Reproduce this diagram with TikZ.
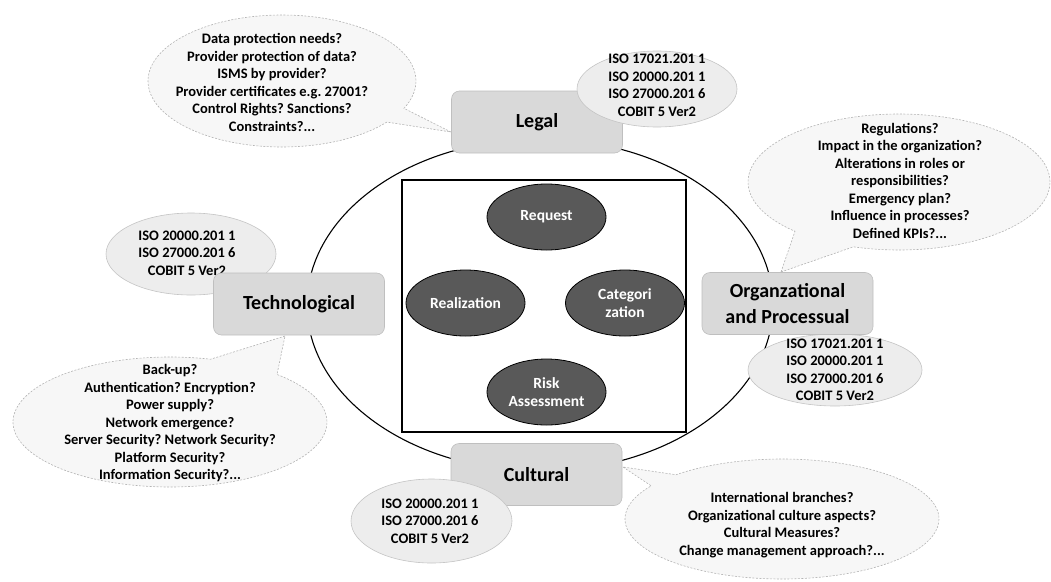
\documentclass[tikz,border=0pt]{standalone}
\usepackage{fontspec}
\setmainfont{Carlito}
\usetikzlibrary{shapes.geometric,shapes.callouts}
\frenchspacing

\definecolor{boxfill}{HTML}{D9D9D9}
\definecolor{boxline}{HTML}{BFBFBF}
\definecolor{isofill}{HTML}{EDEDED}
\definecolor{isoline}{HTML}{C4C4C4}
\definecolor{bubblefill}{HTML}{F7F7F7}
\definecolor{bubbleline}{HTML}{B4B4B4}
\definecolor{phasefill}{HTML}{595959}

\newcommand\smalltext{\fontsize{14.5}{17.5}\selectfont\bfseries}
\newcommand\boxtext{\fontsize{20}{26}\selectfont\bfseries}
\newcommand\phasetext{\fontsize{15.5}{18.5}\selectfont\bfseries}

\begin{document}
\begin{tikzpicture}[x=1pt,y=-1pt,
  bubble/.style={ellipse callout, draw=bubbleline, fill=bubblefill,
    dash pattern=on 2pt off 1.5pt, line width=0.6pt, inner sep=0pt, outer sep=0pt},
  bubbletext/.style={align=center, font=\smalltext, inner sep=0pt},
  isoshape/.style={ellipse, draw=isoline, fill=isofill, line width=0.6pt, inner sep=0pt},
  catbox/.style={rectangle, rounded corners=8pt, draw=boxline, fill=boxfill,
    line width=0.6pt, minimum width=171, minimum height=62, align=center,
    font=\boxtext, inner sep=0pt},
  phase/.style={ellipse, draw=black, fill=phasefill, line width=0.8pt,
    minimum width=119, minimum height=66, inner sep=0pt, text=white,
    align=center, font=\phasetext}]
\useasboundingbox (0,0) rectangle (1051,581);

% outer ring and the process frame
\node[ellipse, draw=black, line width=1.1pt, minimum width=466, minimum height=332, inner sep=0pt] (ring) at (540,305) {};
\node[rectangle, draw=black, fill=white, line width=1.1pt, minimum width=284, minimum height=252, inner sep=0pt] (frame) at (544,306) {};

% process phases
\node[phase] (request) at (546.5,217) {Request};
\node[phase] (realization) at (465.5,303) {Realization};
\node[phase] (categorization) at (625,303) {Categori\\zation};
\node[phase] (risk) at (546.5,392) {Risk\\Assessment};

% pointer tips of the question bubbles
\coordinate (legaltip) at (451,132);
\coordinate (orgtip) at (781,272);
\coordinate (techtip) at (285,336);
\coordinate (culttip) at (623,467);

% question bubbles
\node[bubble, minimum width=268, minimum height=132, callout absolute pointer={(legaltip)}, callout pointer arc=14] (legalbubble) at (282,81) {};
\node[bubbletext] (legalq) at (272,82.5) {Data protection needs?\\Provider protection of data?\\ISMS by provider?\\Provider certificates e.g. 27001?\\Control Rights? Sanctions?\\Constraints?...};

\node[bubble, minimum width=302, minimum height=136, callout absolute pointer={(orgtip)}, callout pointer arc=26] (orgbubble) at (899,182) {};
\node[bubbletext] (orgq) at (900,180.5) {Regulations?\\Impact in the organization?\\Alterations in roles or\\responsibilities?\\Emergency plan?\\Influence in processes?\\Defined KPIs?...};

\node[bubble, minimum width=314, minimum height=130, callout absolute pointer={(techtip)}, callout pointer arc=28] (techbubble) at (170,422) {};
\node[bubbletext] (techq) at (170,423.5) {Back-up?\\Authentication? Encryption?\\Power supply?\\Network emergence?\\Server Security? Network Security?\\Platform Security?\\Information Security?...};

\node[bubble, minimum width=314, minimum height=120, callout absolute pointer={(culttip)}, callout pointer arc=14] (cultbubble) at (782,519) {};
\node[bubbletext] (cultq) at (782,525) {International branches?\\Organizational culture aspects?\\Cultural Measures?\\Change management approach?...};

% standards lying under their category boxes
\node[isoshape, minimum width=170, minimum height=82] (techiso) at (191,254) {};
\node[bubbletext] (techstd) at (187,253) {ISO 20000.201 1\\ISO 27000.201 6\\COBIT 5 Ver2};
\node[isoshape, minimum width=174, minimum height=72] (orgiso) at (835,370) {};
\node[bubbletext] (orgstd) at (835,370) {ISO 17021.201 1\\ISO 20000.201 1\\ISO 27000.201 6\\COBIT 5 Ver2};

% category boxes
\node[catbox] (legal) at (537,122) {Legal};
\node[catbox] (tech) at (299,304) {Technological};
\node[catbox] (org) at (787.5,303.5) {Organzational\\and Processual};
\node[catbox] (cultural) at (536.5,474.5) {Cultural};

% standards lying over their category boxes
\node[isoshape, minimum width=160, minimum height=76] (legaliso) at (657,89) {};
\node[bubbletext] (legalstd) at (657,85.5) {ISO 17021.201 1\\ISO 20000.201 1\\ISO 27000.201 6\\COBIT 5 Ver2};
\node[isoshape, minimum width=161, minimum height=84] (cultiso) at (431.5,521) {};
\node[bubbletext] (cultstd) at (430,521) {ISO 20000.201 1\\ISO 27000.201 6\\COBIT 5 Ver2};
\end{tikzpicture}
\end{document}
